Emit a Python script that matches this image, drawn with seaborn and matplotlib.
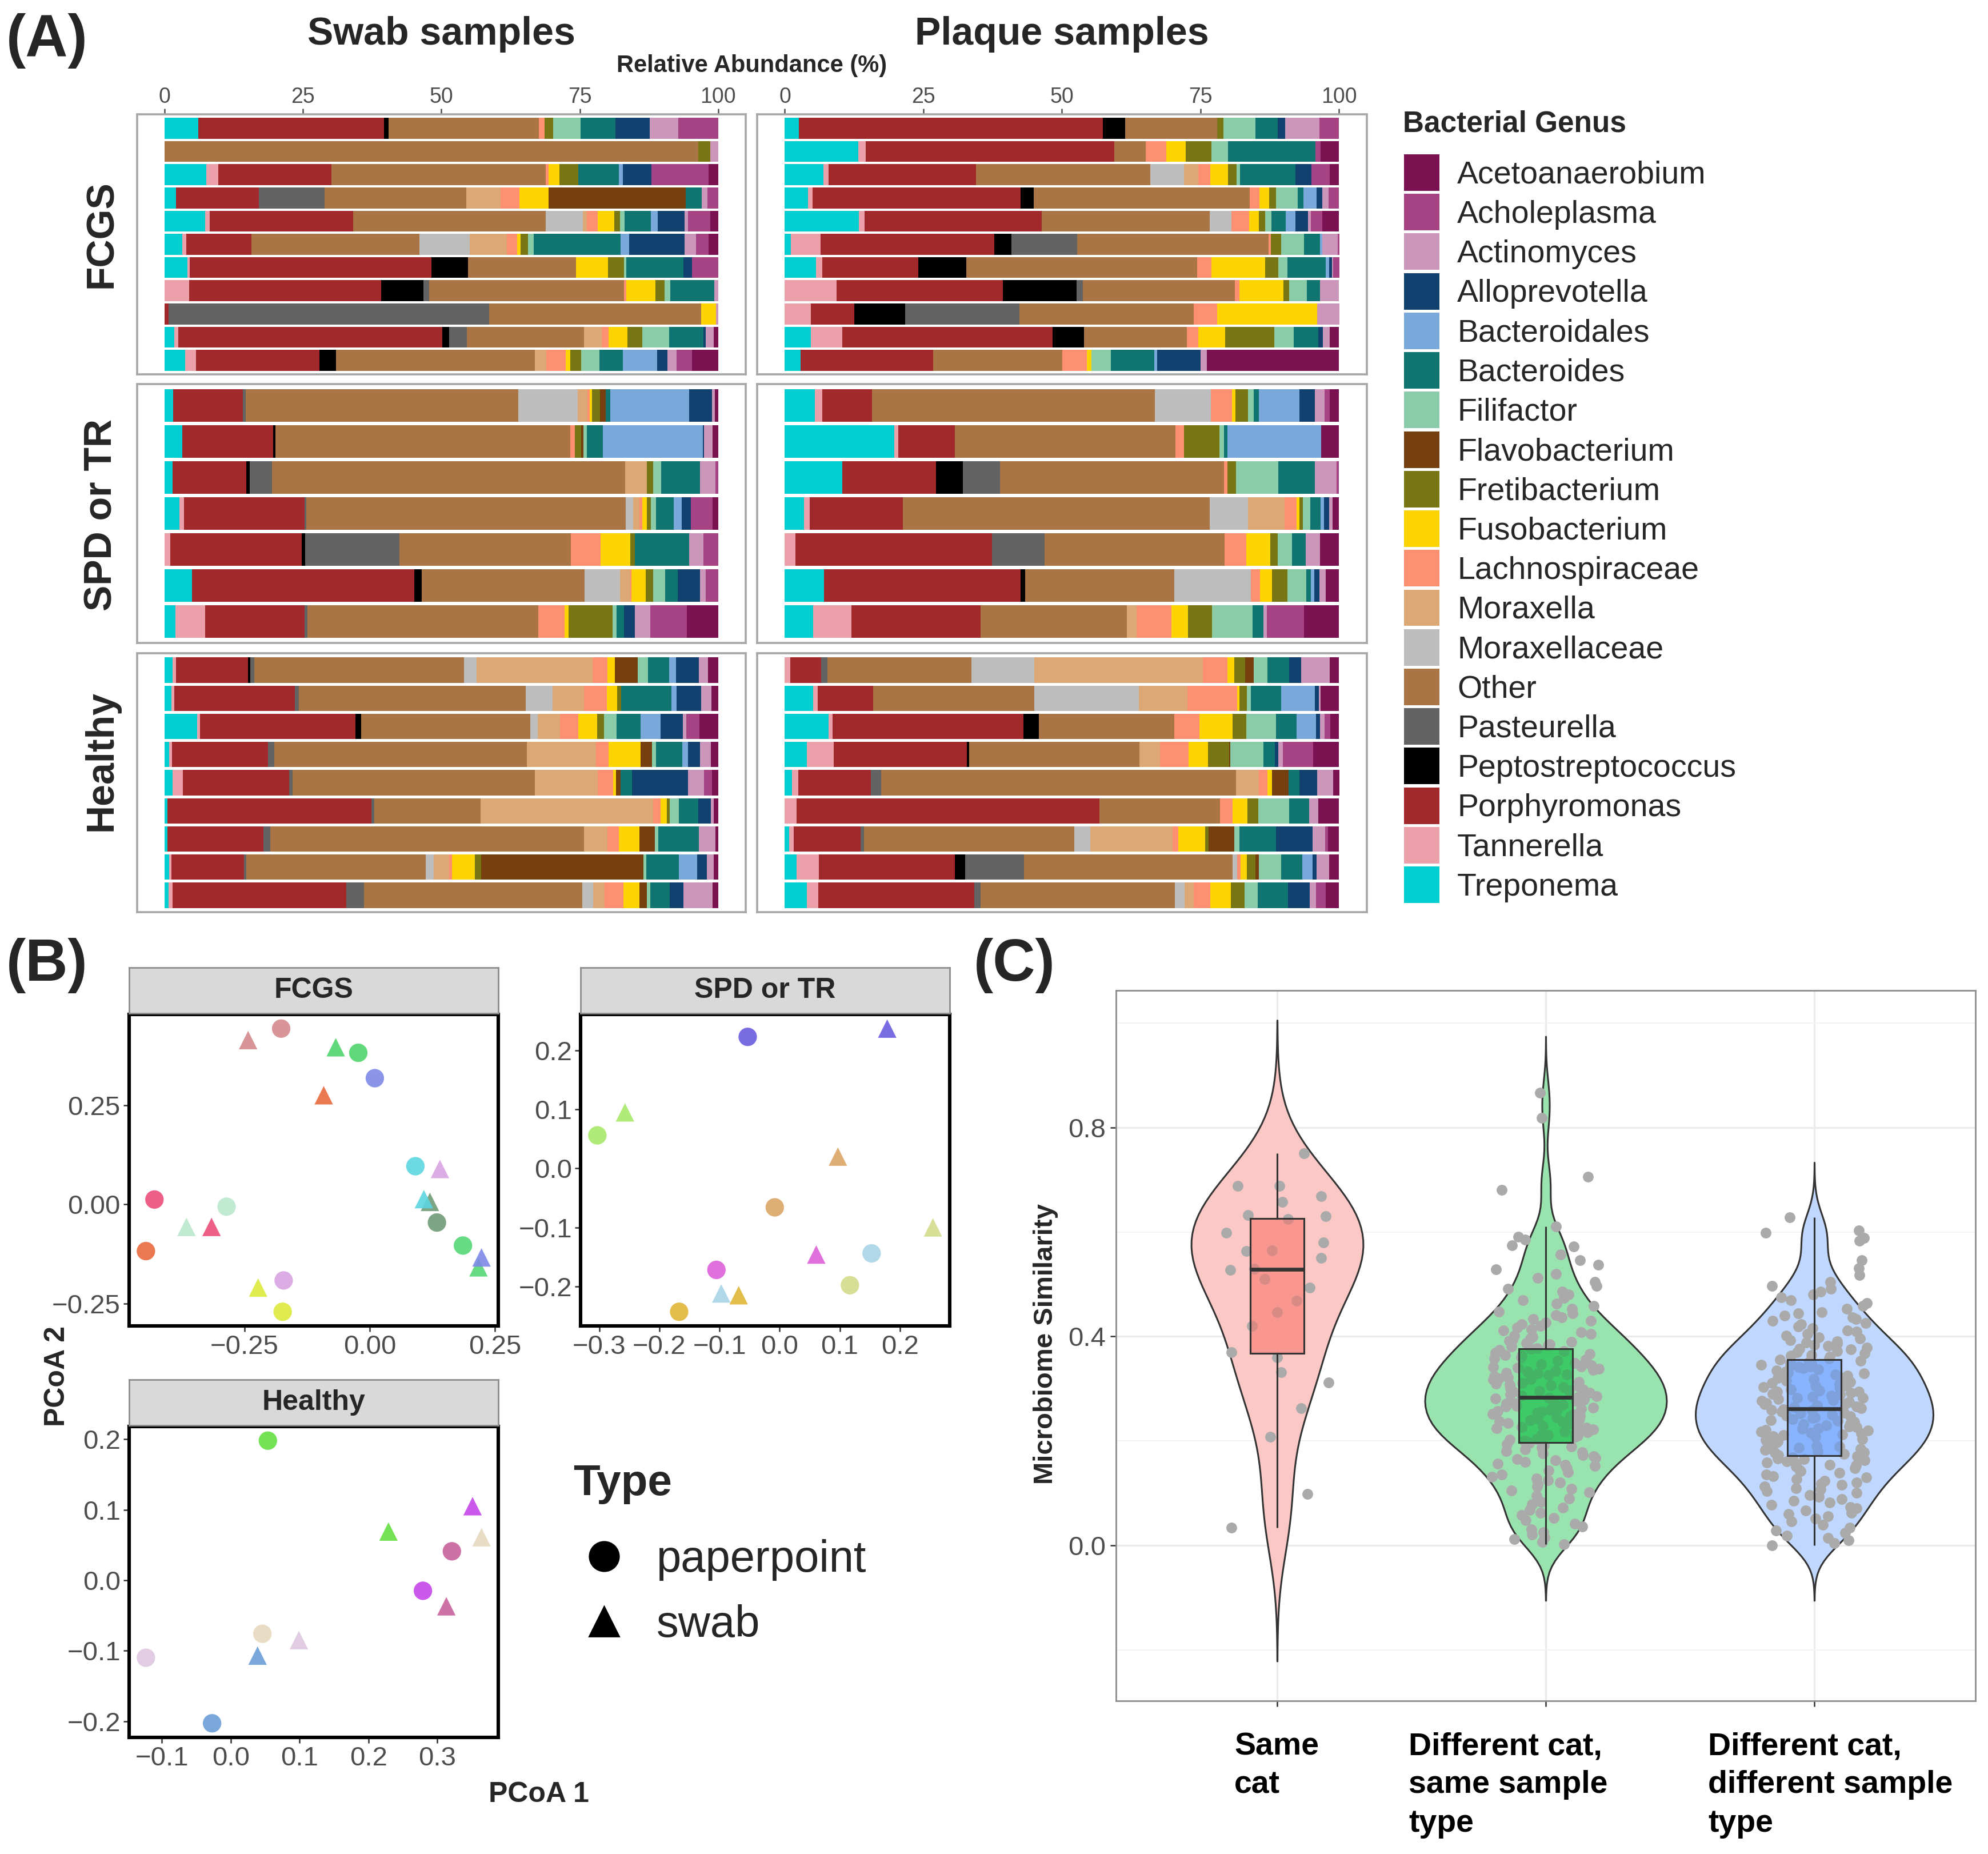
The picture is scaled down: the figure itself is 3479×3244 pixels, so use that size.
import numpy as np
import pandas as pd
import matplotlib
matplotlib.use("Agg")
import matplotlib.pyplot as plt
from matplotlib.patches import Patch
from matplotlib.lines import Line2D
from matplotlib.ticker import MultipleLocator
from matplotlib.transforms import ScaledTranslation
import matplotlib.colors as mcolors
import seaborn as sns

# ---------------- (A) relative abundance per sample ----------------
genera = ["Acetoanaerobium", "Acholeplasma", "Actinomyces", "Alloprevotella",
          "Bacteroidales", "Bacteroides", "Filifactor", "Flavobacterium",
          "Fretibacterium", "Fusobacterium", "Lachnospiraceae", "Moraxella",
          "Moraxellaceae", "Other", "Pasteurella", "Peptostreptococcus",
          "Porphyromonas", "Tannerella", "Treponema"]
codes = ["Ace", "Ach", "Act", "All", "Bdl", "Bac", "Fil", "Fla", "Fre", "Fus",
         "Lac", "Mor", "Mxc", "Oth", "Pas", "Pep", "Por", "Tan", "Tre"]
genus_colors = ["#7A1150", "#A64385", "#CC95BA", "#11426F", "#78A9DA", "#107571",
                "#8ACBA8", "#753F10", "#787514", "#FDD400", "#FC9070", "#DCA876",
                "#BDBDBD", "#A97544", "#636363", "#000000", "#A2292B", "#EBA0AA",
                "#00CED1"]

swab_fcgs = [
    dict(Tre=6.1, Por=33.5, Pep=0.8, Oth=27.2, Lac=1.0, Fre=1.6, Fil=4.9, Bac=6.3, All=6.2, Act=5.2, Ach=7.2),
    dict(Oth=96.3, Fre=2.2, Act=1.4),
    dict(Tre=7.5, Tan=2.2, Por=20.4, Oth=38.8, Lac=0.5, Fus=2.0, Fre=3.4, Bac=7.4, Bdl=0.7, All=5.1, Ach=10.4, Ace=1.7),
    dict(Tre=2.0, Por=15.0, Pas=11.9, Oth=25.6, Mor=6.2, Lac=3.4, Fus=5.3, Fla=24.8, Bac=2.8, Act=1.1, Ach=1.9),
    dict(Tre=7.3, Tan=0.8, Por=25.9, Oth=34.8, Mxc=6.8, Mor=0.7, Lac=2.0, Fus=2.9, Fre=1.1, Fil=0.8, Bac=4.8, Bdl=1.2, All=4.8, Act=0.7, Ach=4.0, Ace=1.4),
    dict(Tre=3.2, Tan=0.7, Por=11.8, Oth=30.3, Mxc=9.1, Mor=6.7, Lac=1.9, Fus=0.6, Fre=1.3, Fil=1.1, Bac=15.7, Bdl=1.5, All=10.0, Act=2.1, Ach=2.3, Ace=1.7),
    dict(Tre=4.1, Tan=0.4, Por=43.6, Pep=6.6, Oth=19.5, Fus=5.8, Fre=2.9, Fil=0.4, Bac=10.3, All=1.6, Ach=4.7),
    dict(Tan=4.4, Por=34.8, Pep=7.6, Pas=1.1, Oth=35.3, Lac=0.4, Fus=5.3, Fre=1.6, Fil=1.1, Bac=7.9, Act=0.7),
    dict(Por=0.7, Pas=57.9, Oth=38.3, Fus=2.7, Act=0.4),
    dict(Tre=1.7, Tan=0.7, Por=47.8, Pep=1.2, Pas=3.2, Oth=21.2, Mor=3.2, Lac=1.3, Fus=3.4, Fre=2.7, Fil=4.8, Bac=6.3, All=0.4, Act=1.4, Ace=0.8),
    dict(Tre=3.7, Tan=1.9, Por=22.4, Pep=2.9, Oth=36.0, Mor=2.1, Lac=3.5, Fus=0.8, Fre=2.0, Fil=3.3, Bac=4.2, Bdl=6.2, All=1.9, Act=1.6, Ach=2.8, Ace=4.7),
]
plaque_fcgs = [
    dict(Tre=2.5, Por=54.9, Pep=4.0, Oth=16.6, Fre=1.1, Fil=5.8, Bac=4.0, All=1.4, Act=6.1, Ach=3.6),
    dict(Tre=13.2, Tan=1.4, Por=44.8, Oth=5.6, Lac=3.7, Fus=3.5, Fre=4.7, Fil=3.0, Bac=15.7, Ach=1.0, Ace=3.3),
    dict(Tre=7.0, Tan=0.9, Por=26.6, Oth=31.5, Mxc=6.1, Mor=2.6, Lac=2.1, Fus=3.2, Fre=1.6, Fil=0.6, Bac=10.0, All=2.9, Ach=3.3, Ace=1.7),
    dict(Tre=4.2, Tan=0.8, Por=37.6, Pep=2.3, Oth=39.0, Lac=1.8, Fus=1.8, Fre=1.2, Fil=3.9, Bac=1.1, Bdl=2.3, All=1.1, Act=1.1, Ach=1.9),
    dict(Tre=13.4, Tan=1.0, Por=32.0, Oth=30.4, Mxc=3.9, Lac=3.2, Fus=1.8, Fre=1.1, Fil=1.2, Bac=2.5, Bdl=1.8, All=2.3, Act=0.5, Ach=2.1, Ace=3.0),
    dict(Tre=1.1, Tan=5.4, Por=31.3, Pep=3.1, Pas=11.9, Oth=34.6, Lac=0.4, Fre=1.8, Fil=4.2, Bac=2.8, Bdl=0.5, Act=2.7, Ach=0.3),
    dict(Tre=5.6, Tan=1.1, Por=17.3, Pep=8.7, Oth=41.6, Lac=2.6, Fus=9.7, Fre=2.3, Fil=1.7, Bac=6.9, Bdl=0.6, All=0.5, Act=0.2, Ach=1.1),
    dict(Tan=9.3, Por=30.0, Pep=13.3, Pas=1.2, Oth=27.4, Lac=0.8, Fus=7.9, Fre=1.1, Fil=3.2, Bac=2.3, Act=3.5),
    dict(Tan=4.7, Por=7.8, Pep=9.2, Pas=20.7, Oth=31.4, Lac=4.3, Fus=18.0, Act=4.0),
    dict(Tre=4.7, Tan=5.6, Por=38.0, Pep=5.6, Oth=18.6, Lac=2.0, Fus=4.9, Fre=8.8, Fil=3.5, Bac=4.4, All=0.9, Act=1.2, Ace=1.7),
    dict(Tre=2.8, Por=24.0, Oth=23.3, Lac=4.4, Fus=0.8, Fil=3.5, Bac=7.8, Bdl=0.6, All=7.8, Act=1.1, Ace=23.9),
]
swab_spd = [
    dict(Tre=1.5, Por=12.6, Pas=0.5, Oth=49.4, Mxc=10.7, Mor=1.8, Lac=0.4, Fus=0.4, Fre=1.4, Fla=1.1, Bac=0.8, Bdl=14.3, All=4.1, Act=0.5, Ace=0.6),
    dict(Tre=3.2, Por=16.4, Pep=0.4, Oth=53.4, Lac=0.9, Fre=1.1, Fla=0.4, Fil=0.6, Bac=2.9, Bdl=18.1, All=0.3, Act=1.5, Ace=1.0),
    dict(Tre=1.4, Por=13.3, Pep=0.6, Pas=4.1, Oth=63.8, Mor=3.9, Fre=1.2, Fil=1.4, Bac=7.0, Act=2.8, Ach=0.5),
    dict(Tre=2.6, Tan=0.9, Por=21.8, Pas=0.3, Oth=57.7, Mxc=1.4, Mor=1.1, Lac=0.5, Fus=0.8, Fre=0.8, Fil=0.9, Bac=3.2, Bdl=1.4, All=1.7, Ach=3.9, Ace=1.0),
    dict(Tan=1.0, Por=23.7, Pep=0.7, Pas=17.0, Oth=31.0, Lac=5.4, Fus=5.3, Fre=0.9, Bac=9.8, Act=2.6, Ach=2.6),
    dict(Tre=4.9, Por=40.2, Pep=1.4, Oth=29.4, Mxc=6.5, Mor=1.8, Lac=0.2, Fus=2.6, Fre=1.4, Fil=2.1, Bac=2.3, All=4.0, Act=1.1, Ach=2.2),
    dict(Tre=1.9, Tan=5.4, Por=18.0, Pas=0.5, Oth=41.8, Lac=4.7, Fus=0.8, Fre=7.9, Fil=0.7, Bac=1.4, All=1.9, Act=2.8, Ach=6.7, Ace=5.6),
]
plaque_spd = [
    dict(Tre=5.4, Tan=1.4, Por=9.0, Oth=51.1, Mxc=10.1, Lac=3.8, Fus=0.6, Fre=2.3, Fil=1.1, Bac=0.9, Bdl=7.3, All=2.8, Act=1.8, Ach=0.9, Ace=1.7),
    dict(Tre=19.8, Tan=0.7, Por=10.2, Oth=39.8, Lac=1.6, Fre=6.4, Fil=0.8, Bac=0.6, Bdl=16.9, Ace=3.3),
    dict(Tre=10.4, Por=16.9, Pep=4.8, Pas=6.7, Oth=40.4, Lac=0.6, Fre=1.6, Fil=7.6, Bac=6.6, Act=3.9, Ach=0.5),
    dict(Tre=3.5, Tan=1.0, Por=16.8, Oth=55.4, Mxc=6.9, Mor=6.6, Lac=2.1, Fus=0.5, Fre=0.7, Fil=1.3, Bac=1.8, Bdl=0.7, All=0.9, Act=0.6, Ace=1.2),
    dict(Tan=1.9, Por=35.5, Pas=9.5, Oth=32.5, Lac=3.9, Fus=4.4, Fre=1.3, Fil=2.6, Bac=2.5, Act=2.5, Ace=3.5),
    dict(Tre=7.1, Por=35.5, Pep=0.8, Oth=26.9, Mxc=13.9, Lac=1.6, Fus=2.2, Fre=2.8, Fil=3.4, Bac=0.8, Bdl=0.6, All=0.9, Act=1.2, Ace=2.4),
    dict(Tre=5.1, Tan=6.9, Por=23.3, Oth=26.4, Mor=1.8, Lac=6.2, Fus=3.0, Fre=4.4, Fil=7.3, Bac=1.9, Act=0.7, Ach=6.7, Ace=6.3),
]
swab_healthy = [
    dict(Tre=1.4, Tan=0.6, Por=13.0, Pep=0.4, Pas=0.8, Oth=37.9, Mxc=2.3, Mor=20.9, Lac=2.7, Fus=1.3, Fla=4.2, Fil=1.8, Bac=3.9, Bdl=1.2, All=4.1, Act=1.7, Ace=1.8),
    dict(Tre=1.2, Tan=0.5, Por=21.8, Pas=0.8, Oth=41.0, Mxc=4.9, Mor=5.6, Lac=4.2, Fus=1.8, Fre=0.8, Bac=9.1, Bdl=0.9, All=4.4, Act=1.9, Ace=1.2),
    dict(Tre=5.8, Tan=0.6, Por=28.1, Pep=1.0, Oth=30.6, Mxc=1.4, Mor=4.0, Lac=3.3, Fus=3.4, Fre=1.3, Fil=2.2, Bac=4.4, Bdl=3.6, All=4.0, Act=0.7, Ach=2.3, Ace=3.4),
    dict(Tre=0.8, Tan=0.5, Por=17.3, Pas=1.2, Oth=45.6, Mor=12.5, Lac=2.2, Fus=5.8, Fla=2.1, Fil=0.7, Bac=4.7, Bdl=1.1, All=2.1, Act=2.0, Ace=1.3),
    dict(Tre=1.4, Tan=1.9, Por=19.2, Pas=0.6, Oth=43.8, Mor=11.4, Lac=2.7, Fus=0.6, Fla=0.8, Bac=2.0, All=10.2, Act=2.9, Ach=1.4, Ace=1.1),
    dict(Tre=0.5, Por=36.9, Pas=0.5, Oth=19.2, Mor=31.3, Lac=1.3, Fus=1.1, Fre=0.6, Fil=1.6, Bac=3.5, All=2.3, Act=0.5, Ace=0.8),
    dict(Tre=0.5, Por=17.3, Pas=1.3, Oth=56.7, Mor=4.2, Lac=2.1, Fus=3.7, Fla=2.8, Fil=0.6, Bac=7.3, Act=3.0, Ace=0.5),
    dict(Tre=0.8, Tan=0.4, Por=13.1, Pas=0.4, Oth=32.4, Mxc=1.4, Mor=2.8, Lac=0.5, Fus=4.1, Fre=1.2, Fla=29.2, Fil=0.6, Bac=5.8, Bdl=3.3, All=1.8, Act=1.2, Ace=0.8),
    dict(Tre=0.7, Tan=0.7, Por=31.4, Pas=3.2, Oth=39.5, Mxc=1.9, Mor=2.1, Lac=3.4, Fus=2.9, Fla=1.3, Fil=0.7, Bac=3.5, All=2.4, Act=5.3, Ace=1.0),
]
plaque_healthy = [
    dict(Tan=1.0, Por=5.6, Pas=1.1, Oth=26.0, Mxc=11.3, Mor=30.5, Lac=4.4, Fus=1.3, Fre=1.9, Fla=1.6, Fil=2.5, Bac=3.9, All=2.1, Act=5.2, Ace=1.7),
    dict(Tre=5.1, Tan=0.8, Por=10.0, Oth=29.1, Mxc=18.9, Mor=8.7, Lac=9.0, Fus=0.4, Fre=1.4, Fil=0.7, Bac=5.4, Bdl=6.1, All=0.7, Act=0.4, Ace=3.3),
    dict(Tre=7.9, Tan=0.7, Por=34.5, Pep=2.8, Oth=24.4, Lac=4.6, Fus=6.0, Fre=2.4, Fil=5.4, Bac=3.7, Bdl=3.5, All=0.7, Act=0.9, Ach=1.0, Ace=1.6),
    dict(Tre=4.0, Tan=4.8, Por=24.0, Pep=0.4, Oth=30.7, Mor=3.7, Lac=5.2, Fus=3.5, Fre=3.8, Fla=0.2, Fil=6.0, Bac=2.0, All=0.6, Act=0.9, Ach=5.4, Ace=4.7),
    dict(Tre=1.3, Tan=1.1, Por=13.1, Pas=1.9, Oth=63.9, Mor=4.1, Lac=1.6, Fus=0.8, Fla=3.0, Bac=1.9, All=3.2, Act=2.9, Ace=1.1),
    dict(Tan=2.1, Por=54.7, Oth=21.7, Lac=2.3, Fus=2.7, Fre=1.9, Fil=5.6, Bac=3.6, Act=1.6, Ace=3.8),
    dict(Tre=0.8, Tan=0.8, Por=12.0, Pas=0.7, Oth=37.9, Mxc=2.8, Mor=14.9, Lac=1.0, Fus=4.9, Fre=0.6, Fla=4.6, Fil=0.9, Bac=6.6, All=6.6, Act=2.3, Ach=0.5, Ace=2.0),
    dict(Tre=2.1, Tan=4.0, Por=24.6, Pep=1.8, Pas=10.6, Oth=37.7, Mxc=0.8, Lac=0.6, Fus=1.1, Fre=1.6, Fla=0.6, Fil=4.0, Bac=3.9, Bdl=1.8, All=0.7, Act=2.3, Ace=1.8),
    dict(Tre=4.0, Tan=2.0, Por=28.2, Pas=1.1, Oth=35.1, Mxc=1.8, Mor=1.6, Lac=3.0, Fus=3.7, Fre=2.5, Fil=2.4, Bac=5.5, All=3.9, Act=1.1, Ach=1.8, Ace=2.4),
]

# ---------------- (B) PCoA coordinates, one colour per cat ----------------
fcgs_colors = ["#6F9A77", "#55D876", "#D4888C", "#50D56C", "#7D88E6", "#E86A3E",
               "#5CD6DF", "#D9A4E2", "#EB4D79", "#BCE8CD", "#DDE93C"]
fcgs_paper_x = [0.134, 0.186, -0.177, -0.023, 0.010, -0.447, 0.091, -0.172, -0.430, -0.286, -0.174]
fcgs_paper_y = [-0.046, -0.104, 0.443, 0.382, 0.318, -0.118, 0.096, -0.192, 0.012, -0.006, -0.271]
fcgs_swab_x = [0.120, 0.217, -0.243, -0.068, 0.223, -0.092, 0.108, 0.140, -0.316, -0.366, -0.223]
fcgs_swab_y = [0.006, -0.159, 0.414, 0.396, -0.134, 0.275, 0.013, 0.089, -0.057, -0.057, -0.210]

spd_colors = ["#6A5BDF", "#A8E86B", "#DCA566", "#D3DC8C", "#DD60D8", "#A8D4E6", "#E0B638"]
spd_paper_x = [-0.053, -0.303, -0.008, 0.117, -0.105, 0.153, -0.167]
spd_paper_y = [0.223, 0.056, -0.066, -0.198, -0.172, -0.144, -0.243]
spd_swab_x = [0.179, -0.257, 0.097, 0.255, 0.061, -0.097, -0.068]
spd_swab_y = [0.237, 0.095, 0.020, -0.100, -0.146, -0.212, -0.215]

healthy_colors = ["#64DF42", "#C346E9", "#E6D9BF", "#C8609C", "#DEC7E0", "#6A9ED8"]
healthy_paper_x = [0.054, 0.279, 0.046, 0.321, -0.123, -0.027]
healthy_paper_y = [0.198, -0.015, -0.076, 0.041, -0.110, -0.203]
healthy_swab_x = [0.229, 0.351, 0.364, 0.313, 0.099, 0.039]
healthy_swab_y = [0.069, 0.105, 0.061, -0.037, -0.085, -0.107]

# ---------------- (C) pairwise microbiome similarity ----------------
groups = ["Same\ncat", "Different cat,\nsame sample\ntype", "Different cat,\ndifferent sample\ntype"]
group_colors = ["#F8766D", "#00BA38", "#619CFF"]

same_cat = [0.034, 0.099, 0.208, 0.263, 0.312, 0.332, 0.360, 0.370, 0.420, 0.447,
            0.468, 0.493, 0.510, 0.527, 0.530, 0.550, 0.563, 0.565, 0.580, 0.598,
            0.625, 0.630, 0.632, 0.657, 0.668, 0.688, 0.688, 0.750]
diff_cat_same_type = [
    0.003, 0.007, 0.012, 0.016, 0.021, 0.025, 0.031, 0.036, 0.042, 0.048,
    0.053, 0.058, 0.063, 0.068, 0.073, 0.079, 0.084, 0.090, 0.096,
    0.102, 0.105, 0.109, 0.113, 0.117, 0.121, 0.125, 0.128, 0.132, 0.136, 0.140, 0.144, 0.148,
    0.152, 0.155, 0.157, 0.160, 0.163, 0.165, 0.168, 0.171, 0.173, 0.176, 0.179, 0.181,
    0.184, 0.187, 0.189, 0.192, 0.194, 0.196, 0.199,
    0.201, 0.203, 0.204, 0.206, 0.208, 0.210, 0.211, 0.213, 0.215, 0.217, 0.218, 0.220,
    0.222, 0.224, 0.226, 0.227, 0.229, 0.231, 0.233, 0.234, 0.236, 0.238, 0.240, 0.242,
    0.243, 0.245, 0.247, 0.249,
    0.251, 0.252, 0.254, 0.256, 0.257, 0.259, 0.261, 0.262, 0.264, 0.266, 0.267, 0.269,
    0.271, 0.272, 0.274, 0.276, 0.277, 0.279, 0.281, 0.282, 0.284, 0.286, 0.287, 0.289,
    0.291, 0.292, 0.294, 0.296, 0.297, 0.299,
    0.301, 0.303, 0.304, 0.306, 0.308, 0.310, 0.311, 0.313, 0.315, 0.317, 0.318, 0.320,
    0.322, 0.324, 0.326, 0.327, 0.329, 0.331, 0.333, 0.334, 0.336, 0.338, 0.340, 0.342,
    0.343, 0.345, 0.347, 0.349,
    0.351, 0.353, 0.356, 0.358, 0.360, 0.363, 0.365, 0.367, 0.369, 0.372, 0.374, 0.376,
    0.378, 0.381, 0.383, 0.385, 0.387, 0.390, 0.392, 0.394, 0.396, 0.399,
    0.402, 0.405, 0.408, 0.411, 0.414, 0.417, 0.420, 0.423, 0.427, 0.430, 0.433, 0.437,
    0.441, 0.444, 0.448,
    0.453, 0.458, 0.463, 0.469, 0.474, 0.480, 0.486, 0.491, 0.497,
    0.504, 0.512, 0.520, 0.529, 0.537, 0.546,
    0.557, 0.572, 0.574, 0.585, 0.591, 0.610, 0.680, 0.706, 0.818, 0.866]
diff_cat_diff_type = [
    0.000, 0.005, 0.010, 0.015, 0.019, 0.024, 0.029, 0.034, 0.040, 0.046,
    0.052, 0.056, 0.060, 0.063, 0.067, 0.071, 0.074, 0.078, 0.082, 0.086, 0.089, 0.093, 0.097,
    0.101, 0.104, 0.107, 0.110, 0.113, 0.116, 0.118, 0.121, 0.124, 0.127, 0.130, 0.133,
    0.136, 0.139, 0.142, 0.145, 0.148,
    0.151, 0.153, 0.155, 0.157, 0.159, 0.161, 0.163, 0.165, 0.167, 0.169, 0.171, 0.173,
    0.175, 0.177, 0.179, 0.181, 0.183, 0.185, 0.187, 0.189, 0.191, 0.193, 0.195, 0.197, 0.199,
    0.201, 0.203, 0.204, 0.206, 0.208, 0.209, 0.211, 0.213, 0.215, 0.216, 0.218, 0.220,
    0.221, 0.223, 0.225, 0.227, 0.228, 0.230, 0.232, 0.233, 0.235, 0.237, 0.239, 0.240,
    0.242, 0.244, 0.245, 0.247, 0.249,
    0.251, 0.253, 0.254, 0.256, 0.258, 0.259, 0.261, 0.263, 0.265, 0.266, 0.268, 0.270,
    0.271, 0.273, 0.275, 0.277, 0.278, 0.280, 0.282, 0.283, 0.285, 0.287, 0.289, 0.290,
    0.292, 0.294, 0.295, 0.297, 0.299,
    0.301, 0.303, 0.305, 0.307, 0.309, 0.311, 0.313, 0.315, 0.317, 0.319, 0.321, 0.323,
    0.325, 0.327, 0.329, 0.331, 0.333, 0.335, 0.337, 0.339, 0.341, 0.343, 0.344, 0.346,
    0.348, 0.349,
    0.351, 0.353, 0.356, 0.358, 0.361, 0.363, 0.365, 0.368, 0.370, 0.372, 0.375, 0.377,
    0.379, 0.382, 0.384, 0.386, 0.389, 0.391, 0.393, 0.396, 0.398,
    0.402, 0.405, 0.409, 0.412, 0.416, 0.419, 0.423, 0.426, 0.430, 0.433, 0.437, 0.440,
    0.444, 0.447,
    0.453, 0.458, 0.464, 0.469, 0.475, 0.480, 0.486, 0.491, 0.497,
    0.504, 0.517, 0.531, 0.546, 0.583, 0.589, 0.598, 0.603, 0.628]

# ---------------- figure setup ----------------
sns.set_theme(style="white")
plt.rcParams["font.family"] = ["Liberation Sans", "DejaVu Sans"]

W, H, DPI = 3480, 3244, 200
fig = plt.figure(figsize=(W / DPI, H / DPI), dpi=DPI)


def rect(left, top, right, bottom):
    # pixel box -> figure fraction [x0, y0, w, h]
    return [left / W, 1 - bottom / H, (right - left) / W, (bottom - top) / H]


# ---------------- panel A ----------------
stack_codes = codes[::-1]
color_of = dict(zip(codes, genus_colors))


def draw_bars(ax, rows, top_row):
    for i, row in enumerate(rows):
        total = sum(row.values())
        left = 0.0
        for c in stack_codes:
            v = row.get(c, 0) * 100 / total
            if v > 0:
                ax.barh(i, v, left=left, height=0.9, color=color_of[c], linewidth=0)
                left += v
    ax.set_xlim(-5, 105)
    ax.set_ylim(len(rows) - 0.4, -0.6)
    ax.set_yticks([])
    for s in ax.spines.values():
        s.set_color("#A6A6A6")
        s.set_linewidth(1.3)
    if top_row:
        ax.xaxis.tick_top()
        ax.set_xticks([0, 25, 50, 75, 100])
        ax.tick_params(axis="x", top=True, bottom=False, labeltop=True, labelbottom=False,
                       length=3.5, width=0.9, color="#4D4D4D", labelsize=13.5,
                       labelcolor="#4D4D4D", pad=1)
    else:
        ax.set_xticks([])


col_px = [(240, 1305), (1325, 2392)]
row_px = [(200, 655), (672, 1125), (1143, 1596)]
row_names = ["FCGS", "SPD or TR", "Healthy"]
row_label_y = [410, 901, 1331]
panel_rows = [(swab_fcgs, plaque_fcgs), (swab_spd, plaque_spd), (swab_healthy, plaque_healthy)]

for r, ((top, bottom), pair) in enumerate(zip(row_px, panel_rows)):
    for (left, right), rows in zip(col_px, pair):
        ax = fig.add_axes(rect(left, top, right, bottom))
        draw_bars(ax, rows, r == 0)
    fig.text(178 / W, 1 - row_label_y[r] / H, row_names[r], rotation=90,
             ha="center", va="center", fontsize=24.5, fontweight="bold")

for (left, right), title in zip(col_px, ["Swab samples", "Plaque samples"]):
    fig.text((left + right) / 2 / W, 1 - 60 / H, title, ha="center", va="center",
             fontsize=24.5, fontweight="bold")
fig.text(1316 / W, 1 - 115 / H, "Relative Abundance (%)", ha="center", va="center",
         fontsize=15, fontweight="bold")

fig.text(2455 / W, 1 - 217 / H, "Bacterial Genus", ha="left", va="center",
         fontsize=18.5, fontweight="bold")
genus_handles = [Patch(facecolor=c, edgecolor="none") for c in genus_colors]
fig.legend(genus_handles, genera, loc="upper left", bbox_to_anchor=(2457 / W, 1 - 270 / H),
           frameon=False, fontsize=20, handlelength=1.115, handleheight=1.394,
           labelspacing=0.095, handletextpad=0.56, borderpad=0, borderaxespad=0)

# ---------------- panel B ----------------
def tick_text(v, nd):
    return f"{v:.{nd}f}".replace("-", "\u2212")


def pcoa_panel(box, strip_box, title, colors, px, py, sx, sy, xt, yt, nd):
    n = len(colors)
    cats = [f"cat{i}" for i in range(n)]
    df = pd.DataFrame({"cat": cats * 2,
                       "type": ["paperpoint"] * n + ["swab"] * n,
                       "pc1": px + sx, "pc2": py + sy})
    ax = fig.add_axes(box)
    sns.scatterplot(data=df, x="pc1", y="pc2", hue="cat", style="type",
                    markers={"paperpoint": "o", "swab": "^"},
                    palette=dict(zip(cats, colors)), s=135, linewidth=0, alpha=0.9,
                    legend=False, ax=ax)
    for col, setter in (("pc1", ax.set_xlim), ("pc2", ax.set_ylim)):
        lo, hi = df[col].min(), df[col].max()
        pad = 0.05 * (hi - lo)
        setter(lo - pad, hi + pad)
    ax.set_xticks(xt, labels=[tick_text(v, nd) for v in xt])
    ax.set_yticks(yt, labels=[tick_text(v, nd) for v in yt])
    ax.set_xlabel("")
    ax.set_ylabel("")
    ax.tick_params(bottom=True, left=True, length=3.5, width=0.9, color="#333333",
                   labelsize=17, labelcolor="#4D4D4D", pad=2)
    for s in ax.spines.values():
        s.set_color("black")
        s.set_linewidth(2.2)
    sax = fig.add_axes(strip_box)
    sax.set_facecolor("#D9D9D9")
    sax.set_xticks([])
    sax.set_yticks([])
    for s in sax.spines.values():
        s.set_color("#8C8C8C")
        s.set_linewidth(1.0)
    sax.text(0.5, 0.5, title, ha="center", va="center", fontsize=18,
             fontweight="bold", transform=sax.transAxes)


pcoa_panel(rect(226, 1775, 872, 2320), rect(226, 1693, 872, 1773), "FCGS", fcgs_colors,
           fcgs_paper_x, fcgs_paper_y, fcgs_swab_x, fcgs_swab_y,
           [-0.25, 0.0, 0.25], [-0.25, 0.0, 0.25], 2)
pcoa_panel(rect(1016, 1775, 1662, 2320), rect(1016, 1693, 1662, 1773), "SPD or TR", spd_colors,
           spd_paper_x, spd_paper_y, spd_swab_x, spd_swab_y,
           [-0.3, -0.2, -0.1, 0.0, 0.1, 0.2], [-0.2, -0.1, 0.0, 0.1, 0.2], 1)
pcoa_panel(rect(226, 2496, 872, 3040), rect(226, 2414, 872, 2494), "Healthy", healthy_colors,
           healthy_paper_x, healthy_paper_y, healthy_swab_x, healthy_swab_y,
           [-0.1, 0.0, 0.1, 0.2, 0.3], [-0.2, -0.1, 0.0, 0.1, 0.2], 1)

fig.text(100 / W, 1 - 2408 / H, "PCoA 2", rotation=90, ha="center", va="center",
         fontsize=18, fontweight="bold")
fig.text(943 / W, 1 - 3140 / H, "PCoA 1", ha="center", va="center",
         fontsize=18, fontweight="bold")

fig.text(1003 / W, 1 - 2596 / H, "Type", ha="left", va="center", fontsize=27.5, fontweight="bold")
type_handles = [Line2D([], [], marker="o", ls="none", color="black", markersize=18.5),
                Line2D([], [], marker="^", ls="none", color="black", markersize=18.5)]
fig.legend(type_handles, ["paperpoint", "swab"], loc="upper left",
           bbox_to_anchor=(1003 / W, 1 - 2693 / H), frameon=False, fontsize=28,
           handlelength=1.4, handletextpad=0.48, labelspacing=0.53, borderpad=0,
           borderaxespad=0)

# ---------------- panel C ----------------
sim_values = [same_cat, diff_cat_same_type, diff_cat_diff_type]
sim_df = pd.DataFrame({
    "group": sum([[g] * len(v) for g, v in zip(groups, sim_values)], []),
    "sim": sum(sim_values, []),
})

axc = fig.add_axes(rect(1953, 1733, 3457, 2976))
violin_widths = [0.64, 0.9, 0.885]
target_bw = [0.085, 0.036, 0.035]
for g, vals, col, wid, bw in zip(groups, sim_values, group_colors, violin_widths, target_bw):
    light = tuple(0.4 * np.array(mcolors.to_rgb(col)) + 0.6)
    sns.violinplot(data=sim_df[sim_df["group"] == g], x="group", y="sim", order=groups,
                   color=light, saturation=1, width=wid, cut=3,
                   bw_method=bw / np.std(vals, ddof=1), inner=None,
                   linecolor="#333333", linewidth=1.1, ax=axc)

np.random.seed(7)
sns.stripplot(data=sim_df, x="group", y="sim", order=groups, color="#AAAAAA", size=6.8,
              jitter=0.2, linewidth=0, ax=axc, zorder=3)

n_patches = len(axc.patches)
sns.boxplot(data=sim_df, x="group", y="sim", order=groups, hue="group", hue_order=groups,
            palette=group_colors, saturation=1, width=0.2, showfliers=False,
            showcaps=False, linecolor="#333333", linewidth=1.1, legend=False,
            medianprops=dict(linewidth=2.4), zorder=4, ax=axc)
for p, col in zip(axc.patches[n_patches:], group_colors):
    p.set_facecolor(mcolors.to_rgba(col, 0.6))

axc.set_xlim(-0.6, 2.6)
axc.set_ylim(-0.297, 1.062)
axc.yaxis.set_major_locator(MultipleLocator(0.4))
axc.yaxis.set_minor_locator(MultipleLocator(0.2))
axc.set_yticks([0.0, 0.4, 0.8], labels=["0.0", "0.4", "0.8"])
axc.set_xticks([0, 1, 2], labels=groups)
axc.grid(which="major", color="#EBEBEB", linewidth=1.2)
axc.grid(which="minor", axis="y", color="#F3F3F3", linewidth=0.7)
axc.set_axisbelow(True)
axc.set_xlabel("")
axc.set_ylabel("")
axc.tick_params(axis="y", left=True, length=3.5, width=0.9, color="#333333",
                labelsize=17, labelcolor="#4D4D4D", pad=3)
axc.tick_params(axis="y", which="minor", left=False)
axc.tick_params(axis="x", bottom=True, length=3.5, width=0.9, color="#333333",
                labelsize=20, labelcolor="black", pad=16)
# the category labels sit as left-aligned blocks, offset from their ticks
label_shift_px = [-75, -240, -186]
for lab, dx in zip(axc.get_xticklabels(), label_shift_px):
    lab.set_fontweight("bold")
    lab.set_horizontalalignment("left")
    lab.set_multialignment("left")
    lab.set_linespacing(1.38)
    lab.set_transform(lab.get_transform() + ScaledTranslation(dx / DPI, 0, fig.dpi_scale_trans))
for s in axc.spines.values():
    s.set_color("#8C8C8C")
    s.set_linewidth(1.0)
fig.text(1830 / W, 1 - 2352 / H, "Microbiome Similarity", rotation=90, ha="center",
         va="center", fontsize=17, fontweight="bold")

# ---------------- panel letters ----------------
fig.text(11 / W, 1 - 72 / H, "(A)", ha="left", va="center", fontsize=37, fontweight="bold")
fig.text(11 / W, 1 - 1689 / H, "(B)", ha="left", va="center", fontsize=37, fontweight="bold")
fig.text(1704 / W, 1 - 1689 / H, "(C)", ha="left", va="center", fontsize=37, fontweight="bold")

fig.savefig("out.png", dpi=DPI)
